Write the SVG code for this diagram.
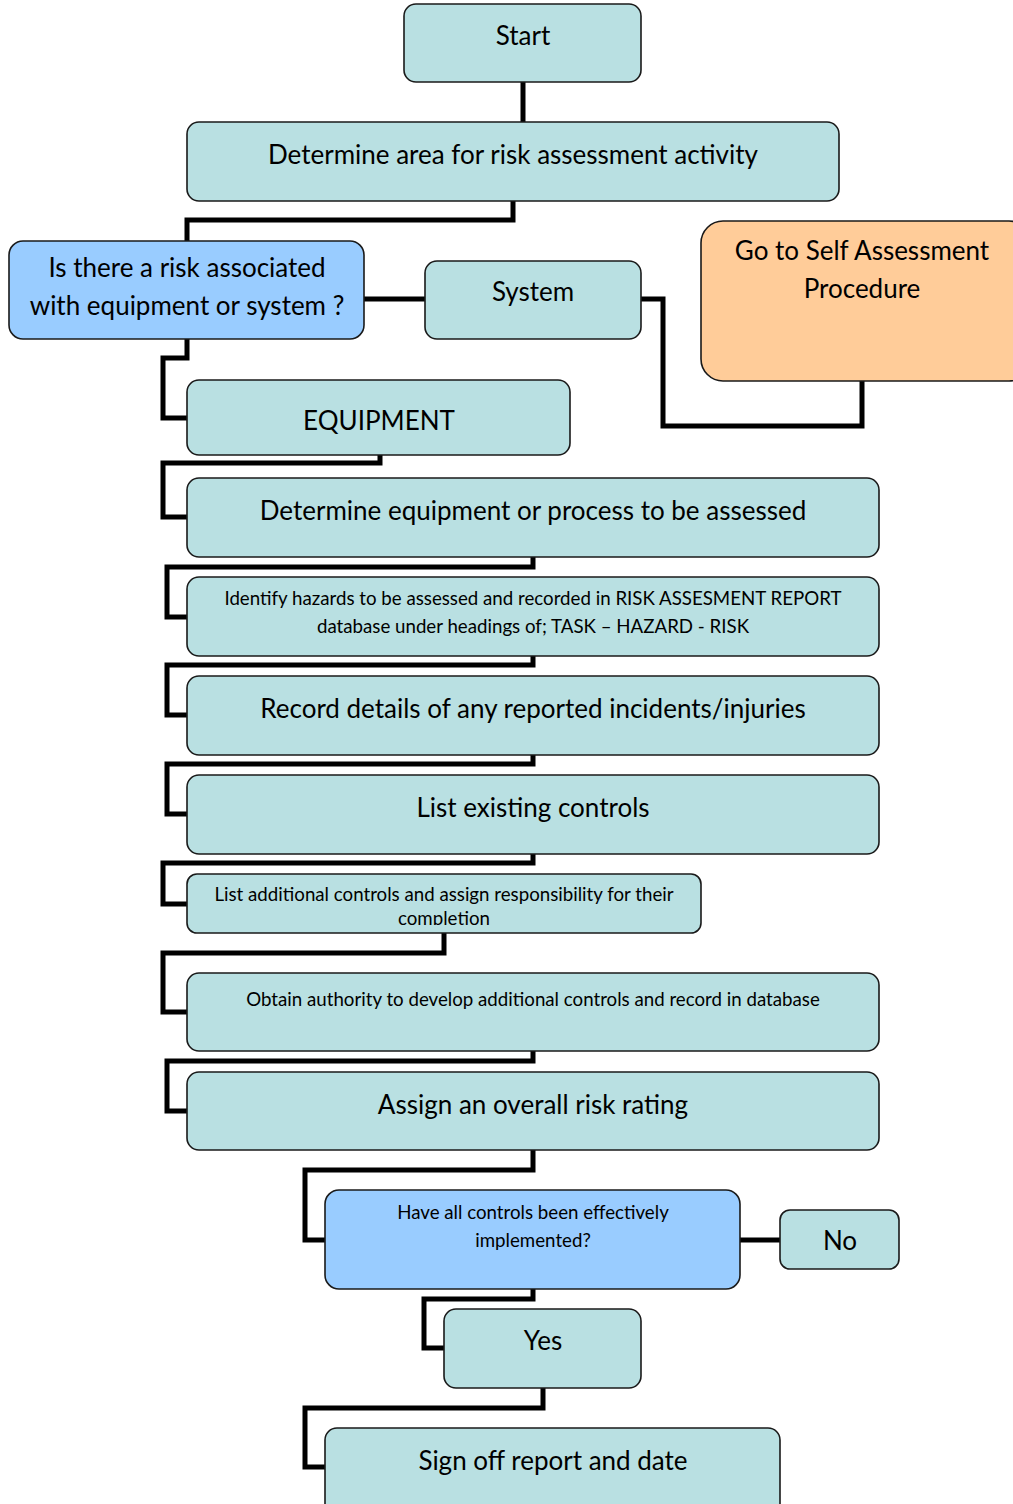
<svg xmlns="http://www.w3.org/2000/svg" width="1013" height="1504" viewBox="0 0 1013 1504">
<style>
.box{fill:#b9e0e2;stroke:#1a1a1a;stroke-width:1.6}
.dec{fill:#99ccff;stroke:#1a1a1a;stroke-width:1.6}
.org{fill:#ffcc99;stroke:#1a1a1a;stroke-width:1.6}
.c{fill:none;stroke:#000;stroke-width:5;stroke-linejoin:miter}
text{font-family:Lato,"Open Sans","Liberation Sans",sans-serif;fill:#000;text-anchor:middle}
.l{font-size:26px}
.s{font-size:18.7px}
</style>
<defs>
<clipPath id="clipAdd"><rect x="187" y="874" width="514" height="51"/></clipPath>
</defs>
<rect width="1013" height="1504" fill="#fff"/>
<g id="connectors">
<path class="c" d="M523,82 V122"/>
<path class="c" d="M513,201 V220 H187 V241"/>
<path class="c" d="M364,299 H425"/>
<path class="c" d="M641,299 H663 V426 H862 V381"/>
<path class="c" d="M187,339 V358 H163 V418 H187"/>
<path class="c" d="M380,455 V463 H163 V517 H187"/>
<path class="c" d="M533,557 V567 H167 V617 H187"/>
<path class="c" d="M533,656 V665 H167 V715 H187"/>
<path class="c" d="M533,755 V764 H167 V814 H187"/>
<path class="c" d="M533,854 V863 H163 V904 H187"/>
<path class="c" d="M444,933 V953 H163 V1012 H187"/>
<path class="c" d="M533,1051 V1061 H167 V1111 H187"/>
<path class="c" d="M533,1150 V1170 H305 V1240 H325"/>
<path class="c" d="M740,1240 H780"/>
<path class="c" d="M533,1289 V1299 H424 V1348 H444"/>
<path class="c" d="M543,1388 V1408 H305 V1467 H325"/>
</g>
<g id="start"><rect class="box" x="404" y="4" width="237" height="78" rx="12"/><text class="l" x="523" y="45">Start</text></g>
<g id="area"><rect class="box" x="187" y="122" width="652" height="79" rx="12"/><text class="l" x="513" y="164">Determine area for risk assessment activity</text></g>
<g id="risk"><rect class="dec" x="9" y="241" width="355" height="98" rx="14"/><text class="l" x="187" y="277">Is there a risk associated</text><text class="l" x="187" y="315">with equipment or system ?</text></g>
<g id="system"><rect class="box" x="425" y="261" width="216" height="78" rx="12"/><text class="l" x="533" y="301">System</text></g>
<g id="selfassess"><rect class="org" x="701" y="221" width="330" height="160" rx="22"/><text class="l" x="862" y="260">Go to Self Assessment</text><text class="l" x="862" y="298">Procedure</text></g>
<g id="equipment"><rect class="box" x="187" y="380" width="383" height="75" rx="12"/><text class="l" x="379" y="430">EQUIPMENT</text></g>
<g id="detequip"><rect class="box" x="187" y="478" width="692" height="79" rx="12"/><text class="l" x="533" y="520">Determine equipment or process to be assessed</text></g>
<g id="hazards"><rect class="box" x="187" y="577" width="692" height="79" rx="12"/><text class="s" x="533" y="605">Identify hazards to be assessed and recorded in RISK ASSESMENT REPORT</text><text class="s" x="533" y="633">database under headings of; TASK – HAZARD - RISK</text></g>
<g id="record"><rect class="box" x="187" y="676" width="692" height="79" rx="12"/><text class="l" x="533" y="718">Record details of any reported incidents/injuries</text></g>
<g id="existing"><rect class="box" x="187" y="775" width="692" height="79" rx="12"/><text class="l" x="533" y="817">List existing controls</text></g>
<g id="additional"><rect class="box" x="187" y="874" width="514" height="59" rx="10"/><g clip-path="url(#clipAdd)"><text class="s" x="444" y="901">List additional controls and assign responsibility for their</text><text class="s" x="444" y="925">completion</text></g></g>
<g id="obtain"><rect class="box" x="187" y="973" width="692" height="78" rx="12"/><text class="s" x="533" y="1006">Obtain authority to develop additional controls and record in database</text></g>
<g id="assign"><rect class="box" x="187" y="1072" width="692" height="78" rx="12"/><text class="l" x="533" y="1114">Assign an overall risk rating</text></g>
<g id="implemented"><rect class="dec" x="325" y="1190" width="415" height="99" rx="14"/><text class="s" x="533" y="1219">Have all controls been effectively</text><text class="s" x="533" y="1247">implemented?</text></g>
<g id="no"><rect class="box" x="780" y="1210" width="119" height="59" rx="10"/><text class="l" x="840" y="1250">No</text></g>
<g id="yes"><rect class="box" x="444" y="1309" width="197" height="79" rx="12"/><text class="l" x="543" y="1350">Yes</text></g>
<g id="signoff"><rect class="box" x="325" y="1428" width="455" height="90" rx="12"/><text class="l" x="553" y="1470">Sign off report and date</text></g>
</svg>
